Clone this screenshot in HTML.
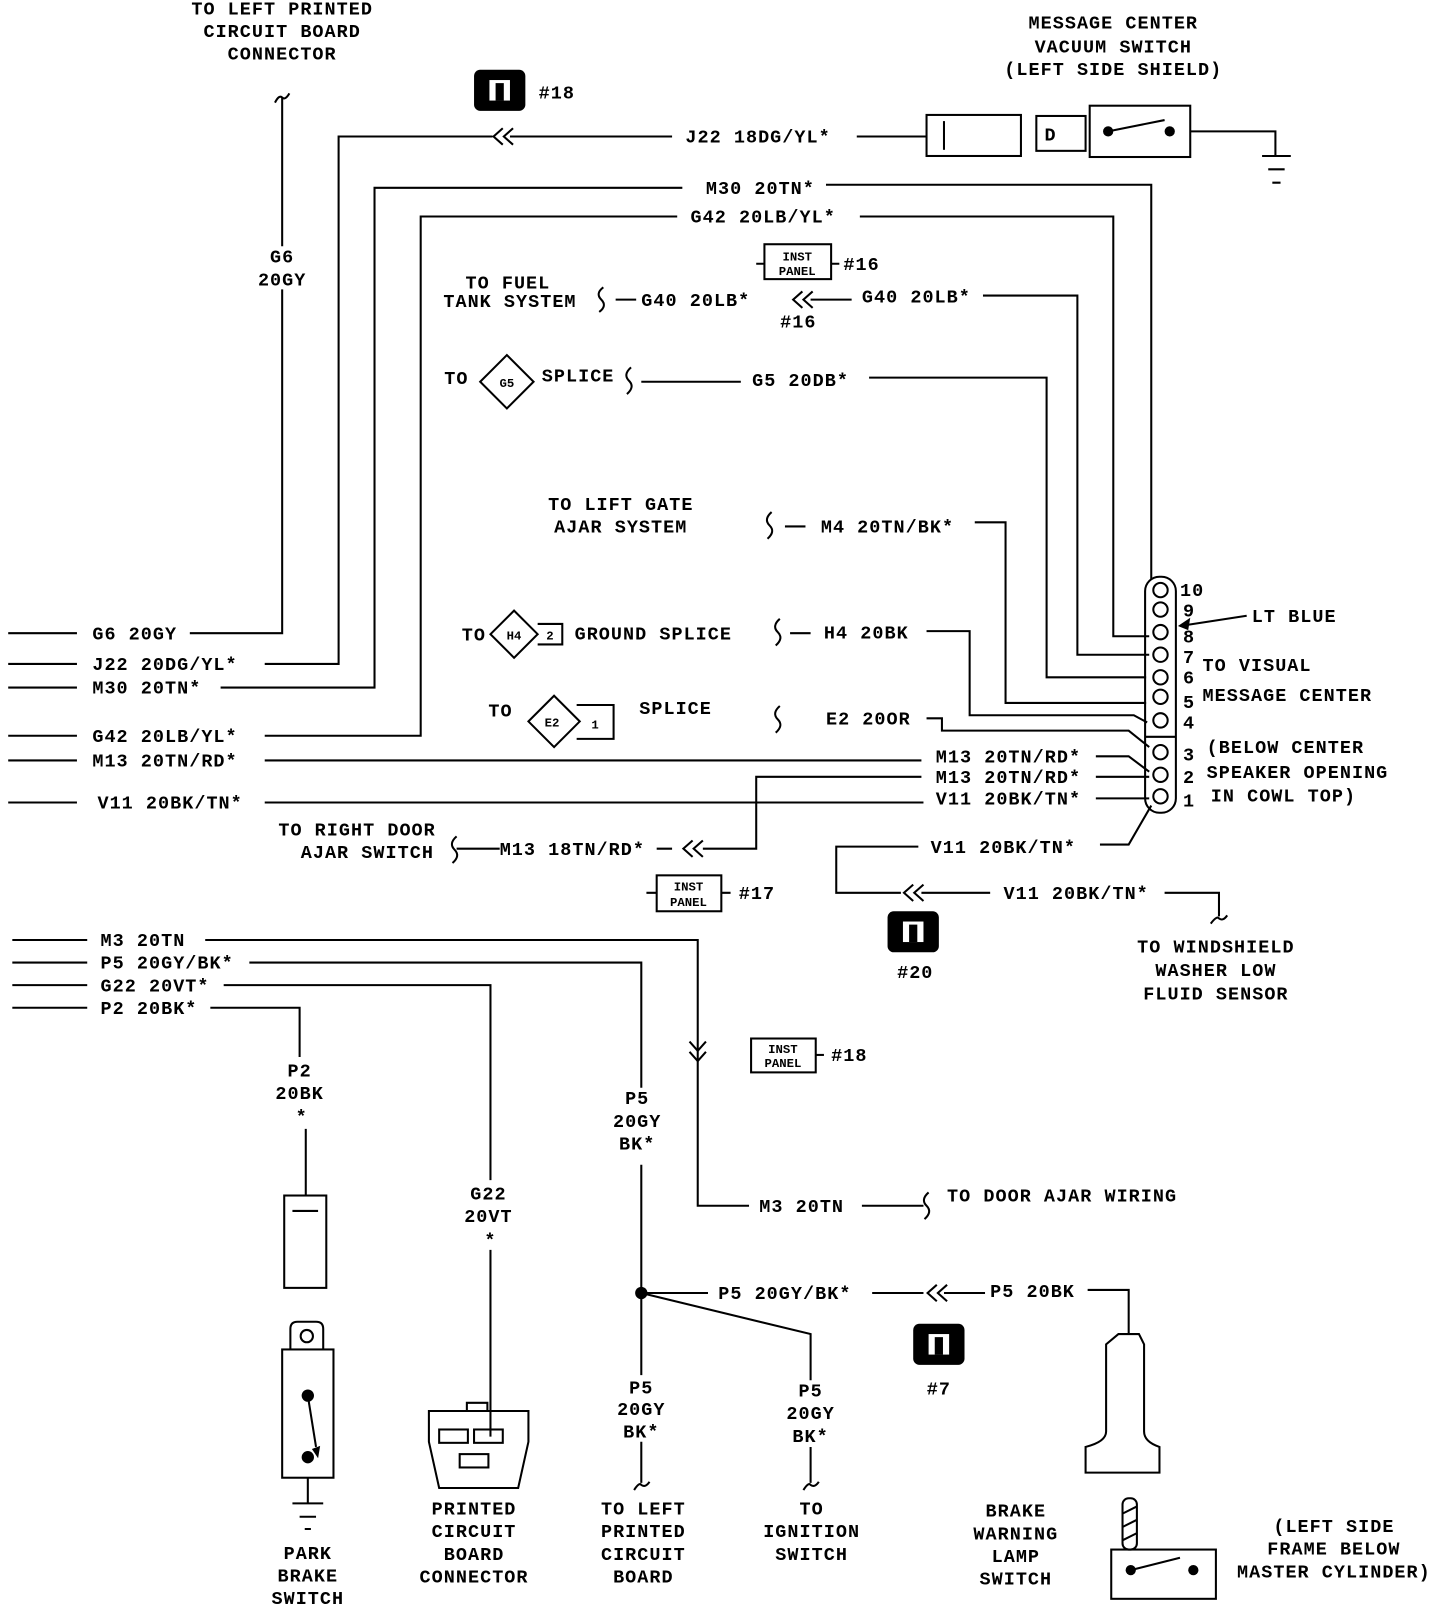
<!DOCTYPE html>
<html><head><meta charset="utf-8"><style>
html,body{margin:0;padding:0;background:#fff;}
svg{display:block}
text{font-family:"Liberation Mono","DejaVu Sans Mono",monospace;font-weight:bold;font-size:18px;fill:#000;letter-spacing:1px}
.m{text-anchor:middle}
.s{font-size:12px;letter-spacing:0}
</style></head><body>
<svg width="1456" height="1606" viewBox="0 0 1419 1565" preserveAspectRatio="none" xmlns="http://www.w3.org/2000/svg">
<g fill="none" stroke="#000" stroke-width="2">
<!-- G6 -->
<path d="M275 95 V240 M275 282 V617 H185"/>
<path d="M268 100 q4 -8 7 -5 q3 3 7 -4"/>
<!-- J22 -->
<path d="M258 647 H330 V133 H480 M497 133 H655 M835 133 H903"/>
<path d="M490 125 l-9 8 l9 8 M500 125 l-9 8 l9 8"/>
<rect x="903" y="112" width="92" height="40"/><path d="M920 118 V146"/>
<rect x="1010" y="113" width="48" height="34"/>
<rect x="1062" y="103" width="98" height="50"/>
<path d="M1160 128 H1243 V152 M1230 152 H1258 M1236 165 H1252 M1240 178 H1248"/>
<path d="M1080 128 L1135 117"/>
<!-- M30 -->
<path d="M215 670 H365 V183 H665 M805 180 H1122 V565"/>
<!-- G42 -->
<path d="M258 717 H410 V211 H660 M838 211 H1085 V620 H1120"/>
<!-- G40 -->
<path d="M600 292 H620 M790 292 H830 M958 288 H1050 V638 H1120"/>
<path d="M588 280 q-8 6 -2 12 q6 6 -2 12"/>
<path d="M782 284 l-9 8 l9 8 M792 284 l-9 8 l9 8"/>
<rect x="745" y="238" width="65" height="34"/><path d="M810 257 H818 M737 257 H745"/>
<!-- G5 -->
<path d="M494 346 L520 372 L494 398 L468 372 Z"/>
<path d="M625 372 H722 M847 368 H1020 V660 H1117"/>
<path d="M615 358 q-8 7 -2 13 q6 6 -2 13"/>
<!-- M4 -->
<path d="M765 513 H785 M950 509 H980 V685 H1117"/>
<path d="M752 499 q-8 7 -2 13 q6 6 -2 13"/>
<!-- H4 -->
<path d="M501 595 L524 618 L501 641 L478 618 Z"/><path d="M524 608 H548 V628 H524"/>
<path d="M770 617 H790 M903 615 H945 V697 H1105 L1118 704"/>
<path d="M760 603 q-8 7 -2 13 q6 6 -2 13"/>
<!-- E2 -->
<path d="M540 678 L565 703 L540 728 L515 703 Z"/><path d="M562 687 H598 V720 H562"/>
<path d="M903 700 H918 V712 H1100 L1120 728"/>
<path d="M760 688 q-8 7 -2 13 q6 6 -2 13"/>
<!-- M13 / V11 -->
<path d="M258 741 H898 M1068 737 H1100 L1120 752 M1068 757 H1120 M1068 778 H1120"/>
<path d="M258 782 H900"/>
<path d="M898 757 H737 V827 H685 M640 827 H655"/>
<path d="M675 819 l-9 8 l9 8 M685 819 l-9 8 l9 8"/>
<path d="M445 815 q-8 7 -2 13 q6 6 -2 13 M445 827 H487"/>
<!-- connector -->
<rect x="1116" y="562" width="30" height="230" rx="14"/>
<path d="M1116 718 H1146"/>
<circle cx="1131" cy="575" r="7"/><circle cx="1131" cy="594" r="7"/><circle cx="1131" cy="616" r="7"/><circle cx="1131" cy="638" r="7"/><circle cx="1131" cy="660" r="7"/><circle cx="1131" cy="679" r="7"/><circle cx="1131" cy="702" r="7"/><circle cx="1131" cy="733" r="7"/><circle cx="1131" cy="755" r="7"/><circle cx="1131" cy="776" r="7"/>
<path d="M1215 600 L1150 610"/>
<path d="M1122 785 L1100 823 H1072 M895 825 H815 V870 H878 M898 870 H965 M1135 870 H1188 V893"/>
<path d="M890 862 l-9 8 l9 8 M900 862 l-9 8 l9 8"/>
<path d="M1180 900 q6 -8 8 -5 q4 3 8 -3"/>
<rect x="640" y="853" width="63" height="35"/><path d="M703 870 H712 M630 870 H640"/>
<!-- bottom rows -->
<path d="M12 916 H85 M12 938 H85 M12 960 H85 M12 982 H85"/>
<path d="M8 617 H75 M8 647 H75 M8 670 H75 M8 717 H75 M8 741 H75 M8 782 H75"/>
<path d="M200 916 H680 V1175 H730 M840 1175 H900"/>
<path d="M672 1015 l8 9 l8 -9 M672 1025 l8 9 l8 -9"/>
<path d="M905 1162 q-8 7 -2 13 q6 6 -2 13"/>
<rect x="732" y="1012" width="63" height="33"/><path d="M795 1028 H803"/>
<path d="M243 938 H625 V1060 M625 1135 V1340 M625 1405 V1445"/>
<path d="M625 1260 H690 M850 1260 H900 M920 1260 H960 M1060 1257 H1100 V1300"/>
<path d="M913 1252 l-9 8 l9 8 M923 1252 l-9 8 l9 8"/>
<path d="M625 1260 L790 1300 V1345 M790 1410 V1445"/>
<path d="M618 1452 q5 -8 7 -5 q4 3 8 -3 M783 1452 q5 -8 7 -5 q4 3 8 -3"/>
<path d="M218 960 H478 V1150 M478 1218 V1400"/>
<path d="M205 982 H292 V1030 M298 1100 V1165"/>
<rect x="277" y="1165" width="41" height="90"/><path d="M285 1180 H310"/>
<path d="M283 1315 V1295 Q283 1288 290 1288 H308 Q315 1288 315 1295 V1315"/>
<circle cx="299" cy="1302" r="6"/>
<rect x="275" y="1315" width="50" height="125"/>
<path d="M300 1360 L308 1410"/>
<path d="M300 1440 V1465 M285 1465 H315 M292 1478 H308 M297 1490 H303"/>
<path d="M418 1375 H515 V1405 L505 1450 H428 L418 1405 Z M455 1375 V1367 H475 V1375"/>
<rect x="428" y="1393" width="28" height="13"/><rect x="462" y="1393" width="28" height="13"/><rect x="448" y="1417" width="28" height="13"/>
<path d="M1090 1300 H1110 L1115 1310 V1395 Q1115 1405 1130 1410 V1435 H1058 V1410 Q1078 1405 1078 1395 V1310 Z"/>
<rect x="1094" y="1460" width="14" height="50" rx="6"/>
<path d="M1094 1475 L1108 1468 M1094 1488 L1108 1481 M1094 1501 L1108 1494"/>
<rect x="1083" y="1510" width="102" height="48"/>
<path d="M1102 1530 L1150 1518"/>
</g>
<g fill="#000">
<circle cx="625" cy="1260" r="6"/>
<circle cx="1080" cy="128" r="5"/><circle cx="1140" cy="128" r="5"/>
<circle cx="300" cy="1360" r="6"/><circle cx="300" cy="1420" r="6"/>
<circle cx="1102" cy="1530" r="5"/><circle cx="1163" cy="1530" r="5"/>
<path d="M1148 610 l12 -8 l-2 12 z"/>
<path d="M304 1412 l8 -3 l-2 12 z"/>
<rect x="462" y="68" width="50" height="40" rx="6"/>
<rect x="865" y="888" width="50" height="40" rx="6"/>
<rect x="890" y="1290" width="50" height="40" rx="6"/>
</g>
<g fill="#fff"><rect x="477" y="78" width="20" height="20"/><rect x="880" y="898" width="20" height="20"/><rect x="905" y="1300" width="20" height="20"/></g>
<g fill="#000"><rect x="483" y="81" width="8" height="17"/><rect x="886" y="901" width="8" height="17"/><rect x="911" y="1303" width="8" height="17"/></g>

<text class="m" x="275" y="14">TO LEFT PRINTED</text>
<text class="m" x="275" y="36">CIRCUIT BOARD</text>
<text class="m" x="275" y="58">CONNECTOR</text>
<text class="m" x="1085" y="28">MESSAGE CENTER</text>
<text class="m" x="1085" y="51">VACUUM SWITCH</text>
<text class="m" x="1085" y="73">(LEFT SIDE SHIELD)</text>
<text x="525" y="96">#18</text>
<text x="668" y="139">J22 18DG/YL*</text>
<text x="1018" y="137">D</text>
<text class="m" x="275" y="256">G6</text>
<text class="m" x="275" y="278">20GY</text>
<text x="688" y="189">M30 20TN*</text>
<text x="673" y="217">G42 20LB/YL*</text>
<text class="s" x="777" y="254" text-anchor="middle">INST</text>
<text class="s" x="777" y="268" text-anchor="middle">PANEL</text>
<text x="822" y="263">#16</text>
<text class="m" x="495" y="281">TO FUEL</text>
<text class="m" x="497" y="299">TANK SYSTEM</text>
<text x="625" y="298">G40 20LB*</text>
<text x="840" y="295">G40 20LB*</text>
<text class="m" x="778" y="319">#16</text>
<text x="433" y="374">TO</text>
<text class="s" x="494" y="377" text-anchor="middle">G5</text>
<text x="528" y="372">SPLICE</text>
<text x="733" y="376">G5 20DB*</text>
<text class="m" x="605" y="497">TO LIFT GATE</text>
<text class="m" x="605" y="519">AJAR SYSTEM</text>
<text x="800" y="519">M4 20TN/BK*</text>
<text x="450" y="624">TO</text>
<text class="s" x="501" y="623" text-anchor="middle">H4</text>
<text class="s" x="536" y="623" text-anchor="middle">2</text>
<text x="560" y="623">GROUND SPLICE</text>
<text x="803" y="622">H4 20BK</text>
<text x="476" y="698">TO</text>
<text class="s" x="538" y="708" text-anchor="middle">E2</text>
<text class="s" x="580" y="710" text-anchor="middle">1</text>
<text x="623" y="696">SPLICE</text>
<text x="805" y="706">E2 20OR</text>
<text x="90" y="623">G6 20GY</text>
<text x="90" y="653">J22 20DG/YL*</text>
<text x="90" y="676">M30 20TN*</text>
<text x="90" y="723">G42 20LB/YL*</text>
<text x="90" y="747">M13 20TN/RD*</text>
<text x="95" y="788">V11 20BK/TN*</text>
<text x="912" y="743">M13 20TN/RD*</text>
<text x="912" y="763">M13 20TN/RD*</text>
<text x="912" y="784">V11 20BK/TN*</text>
<text x="1150" y="581">10</text>
<text x="1153" y="601">9</text>
<text x="1153" y="626">8</text>
<text x="1153" y="646">7</text>
<text x="1153" y="666">6</text>
<text x="1153" y="690">5</text>
<text x="1153" y="710">4</text>
<text x="1153" y="741">3</text>
<text x="1153" y="763">2</text>
<text x="1153" y="786">1</text>
<text x="1220" y="606">LT BLUE</text>
<text x="1172" y="654">TO VISUAL</text>
<text x="1172" y="683">MESSAGE CENTER</text>
<text x="1176" y="734">(BELOW CENTER</text>
<text x="1176" y="758">SPEAKER OPENING</text>
<text x="1180" y="781">IN COWL TOP)</text>
<text class="m" x="348" y="814">TO RIGHT DOOR</text>
<text class="m" x="358" y="836">AJAR SWITCH</text>
<text x="487" y="833">M13 18TN/RD*</text>
<text x="907" y="831">V11 20BK/TN*</text>
<text x="978" y="876">V11 20BK/TN*</text>
<text class="s" x="671" y="868" text-anchor="middle">INST</text>
<text class="s" x="671" y="883" text-anchor="middle">PANEL</text>
<text x="720" y="876">#17</text>
<text class="m" x="892" y="953">#20</text>
<text class="m" x="1185" y="928">TO WINDSHIELD</text>
<text class="m" x="1185" y="951">WASHER LOW</text>
<text class="m" x="1185" y="974">FLUID SENSOR</text>
<text x="98" y="922">M3 20TN</text>
<text x="98" y="944">P5 20GY/BK*</text>
<text x="98" y="966">G22 20VT*</text>
<text x="98" y="988">P2 20BK*</text>
<text class="s" x="763" y="1026" text-anchor="middle">INST</text>
<text class="s" x="763" y="1040" text-anchor="middle">PANEL</text>
<text x="810" y="1034">#18</text>
<text class="m" x="292" y="1049">P2</text>
<text class="m" x="292" y="1071">20BK</text>
<text class="m" x="294" y="1094">*</text>
<text class="m" x="621" y="1076">P5</text>
<text class="m" x="621" y="1098">20GY</text>
<text class="m" x="621" y="1120">BK*</text>
<text x="740" y="1181">M3 20TN</text>
<text x="923" y="1171">TO DOOR AJAR WIRING</text>
<text class="m" x="476" y="1169">G22</text>
<text class="m" x="476" y="1191">20VT</text>
<text class="m" x="478" y="1214">*</text>
<text x="700" y="1266">P5 20GY/BK*</text>
<text x="965" y="1264">P5 20BK</text>
<text class="m" x="915" y="1359">#7</text>
<text class="m" x="625" y="1358">P5</text>
<text class="m" x="625" y="1379">20GY</text>
<text class="m" x="625" y="1401">BK*</text>
<text class="m" x="790" y="1361">P5</text>
<text class="m" x="790" y="1383">20GY</text>
<text class="m" x="790" y="1405">BK*</text>
<text class="m" x="300" y="1519">PARK</text>
<text class="m" x="300" y="1541">BRAKE</text>
<text class="m" x="300" y="1563">SWITCH</text>
<text class="m" x="462" y="1476">PRINTED</text>
<text class="m" x="462" y="1498">CIRCUIT</text>
<text class="m" x="462" y="1520">BOARD</text>
<text class="m" x="462" y="1542">CONNECTOR</text>
<text class="m" x="627" y="1476">TO LEFT</text>
<text class="m" x="627" y="1498">PRINTED</text>
<text class="m" x="627" y="1520">CIRCUIT</text>
<text class="m" x="627" y="1542">BOARD</text>
<text class="m" x="791" y="1476">TO</text>
<text class="m" x="791" y="1498">IGNITION</text>
<text class="m" x="791" y="1520">SWITCH</text>
<text class="m" x="990" y="1478">BRAKE</text>
<text class="m" x="990" y="1500">WARNING</text>
<text class="m" x="990" y="1522">LAMP</text>
<text class="m" x="990" y="1544">SWITCH</text>
<text class="m" x="1300" y="1493">(LEFT SIDE</text>
<text class="m" x="1300" y="1515">FRAME BELOW</text>
<text class="m" x="1300" y="1537">MASTER CYLINDER)</text>
</svg>
</body></html>
